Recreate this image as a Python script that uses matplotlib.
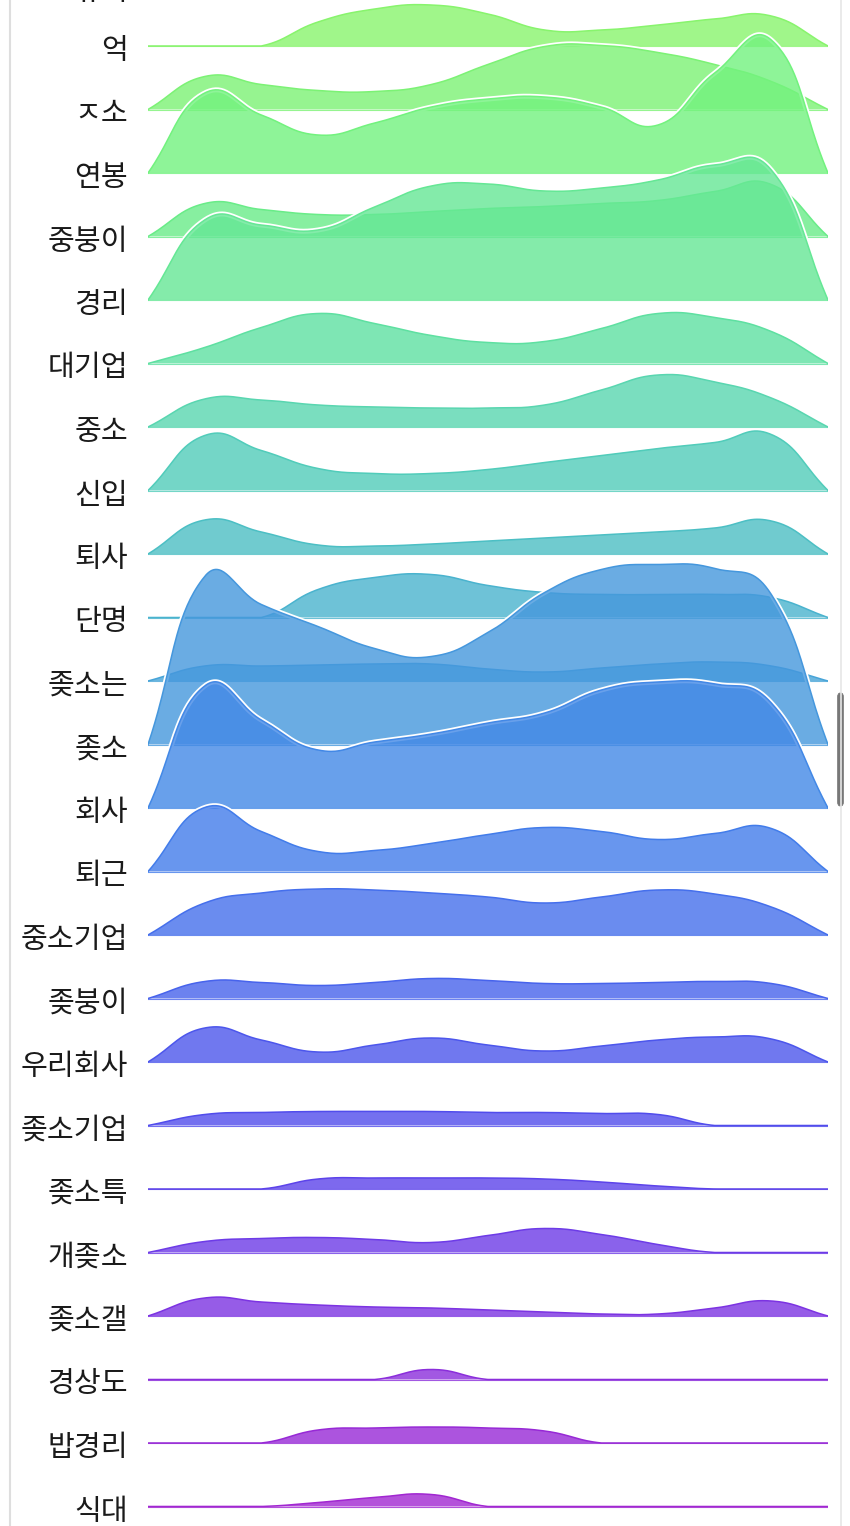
import numpy as np
import matplotlib.pyplot as plt
from matplotlib.lines import Line2D
from matplotlib.patches import FancyBboxPatch

plt.rcParams['font.family'] = ['Noto Sans CJK KR', 'DejaVu Sans']

# label of the row that is scrolled off the top (only its bottom edge shows)
top_label = '유저'

labels = ['억', 'ㅈ소', '연봉', '중붕이', '경리', '대기업', '중소', '신입', '퇴사', '단명',
          '좆소는', '좆소', '회사', '퇴근', '중소기업', '좆붕이', '우리회사', '좆소기업',
          '좆소특', '개좆소', '좆소갤', '경상도', '밥경리', '식대']

# 13 points per row (x = 0..12), heights
v_eok      = [0, 0, 0, 24, 37, 41, 32, 16, 16, 21, 27, 30, 0]
v_jso      = [0, 33, 25, 19, 18, 25, 45, 63, 64, 57, 45, 28, 0]
v_salary   = [0, 80, 58, 38, 50, 66, 74, 76, 66, 48, 100, 133, 0]
v_jungbung = [0, 33, 27, 22, 22, 25, 28, 30, 33, 36, 45, 52, 0]
v_gyeongri = [0, 80, 75, 70, 93, 114, 116, 109, 112, 120, 135, 130, 0]
v_daegiup  = [0, 16, 36, 50, 40, 28, 21, 22, 35, 50, 46, 32, 0]
v_jungso   = [0, 28, 27, 22, 20, 19, 19, 22, 37, 52, 45, 29, 0]
v_sinip    = [0, 55, 40, 22, 17, 17, 21, 28, 35, 42, 48, 56, 0]
v_toesa    = [0, 34, 22, 9, 8, 10, 13, 16, 19, 22, 26, 33, 0]
v_danmyeong = [0, 0, 0, 28, 40, 43, 32, 25, 23, 23, 23, 20, 0]
v_jotsoneun = [0, 15, 15, 16, 17, 17, 12, 9, 13, 17, 19, 15, 0]
v_jotso    = [0, 168, 140, 118, 96, 88, 112, 152, 175, 180, 176, 150, 0]
v_company  = [0, 122, 88, 58, 66, 74, 85, 95, 118, 126, 124, 105, 0]
v_leave    = [0, 64, 40, 20, 21, 28, 37, 44, 40, 32, 38, 43, 0]
v_smb      = [0, 32, 42, 46, 45, 42, 38, 32, 38, 45, 41, 28, 0]
v_jotbung  = [0, 17, 16, 13, 16, 20, 18, 15, 15, 16, 17, 15, 0]
v_ourco    = [0, 34, 22, 10, 17, 24, 17, 11, 16, 22, 25, 23, 0]
v_jotsogiup = [0, 11, 13, 14, 14, 14, 13, 13, 12, 11, 0, 0, 0]
v_jotsoteuk = [0, 0, 0, 10, 11, 11, 11, 10, 7, 3, 0, 0, 0]
v_gaejotso = [0, 11, 14, 15, 13, 10, 17, 24, 18, 8, 0, 0, 0]
v_jotsogal = [0, 18, 14, 11, 9, 8, 6, 4, 2, 2, 8, 15, 0]
v_gyeongsang = [0, 0, 0, 0, 0, 10, 0, 0, 0, 0, 0, 0, 0]
v_bapgyeongri = [0, 0, 0, 13, 15, 16, 15, 12, 0, 0, 0, 0, 0]
v_sikdae   = [0, 0, 0, 4, 9, 12, 0, 0, 0, 0, 0, 0, 0]

values = [v_eok, v_jso, v_salary, v_jungbung, v_gyeongri, v_daegiup, v_jungso, v_sinip,
          v_toesa, v_danmyeong, v_jotsoneun, v_jotso, v_company, v_leave, v_smb, v_jotbung,
          v_ourco, v_jotsogiup, v_jotsoteuk, v_gaejotso, v_jotsogal, v_gyeongsang,
          v_bapgyeongri, v_sikdae]

colors = ['#88f46d', '#7cf275', '#72f27e', '#69ec88', '#65e795', '#5ee0a1', '#59d6b0',
          '#51ccba', '#4cbfc4', '#4ab3ce', '#47a4d8', '#4597dd', '#4288e6', '#427cea',
          '#456fec', '#4763ec', '#4c56ec', '#514cec', '#5c43ea', '#6d3be7', '#7c33e2',
          '#8b2edb', '#9729d6', '#a127d1']

W, H = 850, 1526
row0 = 46      # px, baseline of first row
step = 63.5    # px between baselines
dx = 680 / 12  # px between points


def smooth(vals, tension=0.45, yw=0.5, n=40):
    # bezier spline (chart.js style), y damped in the segment lengths
    px = np.arange(len(vals)) * dx
    py = np.asarray(vals, float)
    cps = []
    for i in range(len(py)):
        pi = max(i - 1, 0)
        ni = min(i + 1, len(py) - 1)
        d01 = np.hypot(px[i] - px[pi], yw * (py[i] - py[pi]))
        d12 = np.hypot(px[ni] - px[i], yw * (py[ni] - py[i]))
        tot = d01 + d12
        s01 = d01 / tot if tot else 0
        s12 = d12 / tot if tot else 0
        vx, vy = px[ni] - px[pi], py[ni] - py[pi]
        cps.append(((px[i] - tension * s01 * vx, py[i] - tension * s01 * vy),
                    (px[i] + tension * s12 * vx, py[i] + tension * s12 * vy)))
    t = np.linspace(0, 1, n, endpoint=False)[:, None]
    pts = []
    for i in range(len(py) - 1):
        p0 = np.array([px[i], py[i]])
        p1 = np.array(cps[i][1])
        p2 = np.array(cps[i + 1][0])
        p3 = np.array([px[i + 1], py[i + 1]])
        pts.append((1 - t)**3 * p0 + 3 * (1 - t)**2 * t * p1 + 3 * (1 - t) * t**2 * p2 + t**3 * p3)
    pts.append(np.array([[px[-1], py[-1]]]))
    pts = np.vstack(pts)
    return pts[:, 0] / dx, np.maximum(pts[:, 1], 0)


fig = plt.figure(figsize=(W / 100, H / 100), dpi=100)
ax = fig.add_axes([148 / W, 0, 680 / W, 1])
ax.set_xlim(0, 12)
ax.set_ylim(-H, 0)
ax.axis('off')

lab_x = -20 / dx
ax.text(lab_x, 8, top_label, ha='right', va='center', fontsize=21,
        color='#1a1a1a', clip_on=False)

for k, (name, vals, c) in enumerate(zip(labels, values, colors)):
    base = -(row0 + step * k)
    xs, ys = smooth(vals)
    z = 2 + k * 3
    ax.plot(xs, base + ys, color='white', lw=3.6, zorder=z, solid_capstyle='butt')
    ax.fill(np.r_[xs, xs[::-1]], np.r_[base + ys, np.full(len(xs), base)],
            color=c, alpha=0.8, lw=0, zorder=z + 1)
    ax.plot(xs, base + ys, color=c, lw=1.1, zorder=z + 2)
    ax.plot([0, 12], [base, base], color=c, lw=0.8, alpha=0.8, zorder=z + 2)
    ax.text(lab_x, base - 5, name, ha='right', va='center', fontsize=21,
            color='#1a1a1a', clip_on=False)

# page frame and scrollbar of the screenshot
fig.add_artist(Line2D([10 / W, 10 / W], [0, 1], color='#dedede', lw=1.5,
                      transform=fig.transFigure))
fig.add_artist(Line2D([841 / W, 841 / W], [0, 1], color='#e6e6e6', lw=1.2,
                      transform=fig.transFigure))
fig.add_artist(FancyBboxPatch((837.5 / W, 1 - 806 / H), 6 / W, 113 / H,
                              boxstyle='round,pad=0,rounding_size=0.003',
                              facecolor='#777777', edgecolor='#777777', lw=0.5,
                              transform=fig.transFigure))

fig.savefig('out.png', dpi=100)
